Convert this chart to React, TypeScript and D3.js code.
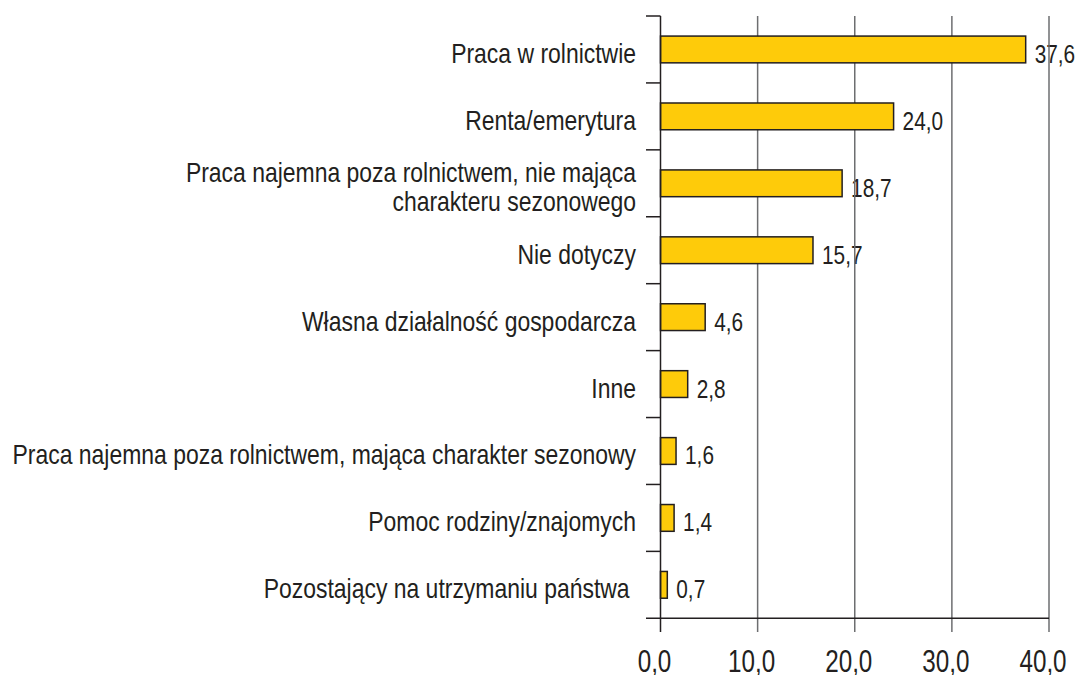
import React from "react";
import * as d3 from "d3";

const categories = [
  "Praca w rolnictwie",
  "Renta/emerytura",
  "Praca najemna poza rolnictwem, nie mająca\ncharakteru sezonowego",
  "Nie dotyczy",
  "Własna działalność gospodarcza",
  "Inne",
  "Praca najemna poza rolnictwem, mająca charakter sezonowy",
  "Pomoc rodziny/znajomych",
  "Pozostający na utrzymaniu państwa ",
];
const values = [37.6, 24.0, 18.7, 15.7, 4.6, 2.8, 1.6, 1.4, 0.7];
const xTicks = [0, 10, 20, 30, 40];

const W = 1077;
const H = 675;
const FONT = "'Liberation Sans', Arial, sans-serif";
const SX = 0.85;

function CText({ x, y, anchor = "start", size, sy = 1, children }: { x: number; y: number; anchor?: string; size: number; sy?: number; children: React.ReactNode }) {
  return (
    <g transform={`translate(${x},${y}) scale(${SX},${sy})`}>
      <text x={0} y={0} textAnchor={anchor} fontSize={size} fontFamily={FONT} fill="#231f20" style={{ whiteSpace: "pre" }}>
        {children}
      </text>
    </g>
  );
}

export default function App() {
  const x = d3.scaleLinear().domain([0, 40]).range([660.5, 1049]);
  const y = d3
    .scaleBand<string>()
    .domain(categories)
    .range([16, 618.3])
    .paddingInner(0.6)
    .paddingOuter(0.3);
  const top = 16;
  const bottom = 618.3;
  const fmt = (v: number) => v.toFixed(1).replace(".", ",");
  const bandH = (bottom - top) / categories.length;
  const boundaries = d3.range(categories.length + 1).map((i) => top + i * bandH);

  return (
    <svg width={W} height={H} style={{ position: "absolute", left: 0, top: 0, background: "#fff" }}>
      {categories.map((c, i) => {
        const lines = c.split("\n");
        const cy = top + (i + 0.5) * bandH;
        const lh = 29;
        return lines.map((l, j) => (
          <CText key={c + j} x={636} y={cy + (j - (lines.length - 1) / 2) * lh + 13.5} anchor="end" size={27} sy={1.03}>
            {l}
          </CText>
        ));
      })}
      {values.map((v, i) => (
        <CText key={i} x={x(v) + 9} y={(y(categories[i]) ?? 0) + y.bandwidth() / 2 + 13.5} size={24.5} sy={1.05}>
          {fmt(v)}
        </CText>
      ))}
      {xTicks.map((t) => (
        <CText key={t} x={x(t) - 6} y={672} anchor="middle" size={28.5} sy={1.08}>
          {fmt(t)}
        </CText>
      ))}
      {xTicks.slice(1).map((t) => (
        <line key={t} x1={x(t)} x2={x(t)} y1={top} y2={632} stroke="#6d6e70" strokeWidth={1.5} />
      ))}
      {values.map((v, i) => (
        <rect
          key={i}
          x={x(0)}
          y={y(categories[i])}
          width={x(v) - x(0)}
          height={y.bandwidth()}
          fill="#fecb0a"
          stroke="#231f20"
          strokeWidth={1.5}
        />
      ))}
      <line x1={x(0)} x2={x(0)} y1={top} y2={632} stroke="#231f20" strokeWidth={1.5} />
      <line x1={646} x2={x(40)} y1={bottom} y2={bottom} stroke="#231f20" strokeWidth={1.5} />
      {boundaries.slice(0, -1).map((b, i) => (
        <line key={i} x1={646} x2={x(0)} y1={b} y2={b} stroke="#231f20" strokeWidth={1.5} />
      ))}
    </svg>
  );
}
